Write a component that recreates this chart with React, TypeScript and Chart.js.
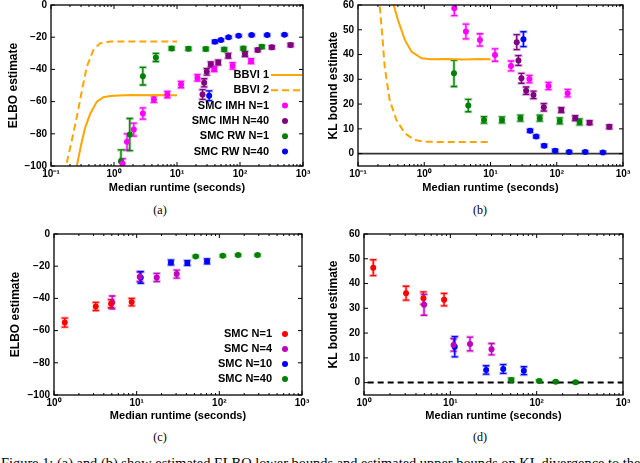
import React, { useEffect, useRef } from "react";
import { Chart, registerables } from "chart.js";
Chart.register(...registerables);

// ---------------- Panel (a): ELBO estimate ----------------
const bbvi1TimeA = [0.257, 0.3, 0.35, 0.42, 0.535, 0.68, 0.87, 1.2, 2, 3, 5, 7, 10];
const bbvi1ElboA = [-100, -87, -76, -67.5, -60, -57.3, -56.5, -56.2, -55.9, -56.1, -55.9, -56.1, -56];
const bbvi2TimeA = [0.178, 0.214, 0.257, 0.31, 0.37, 0.47, 0.6, 0.87, 1.5, 3, 6, 10];
const bbvi2ElboA = [-98, -84, -69.5, -53, -38.4, -28, -23.8, -22.7, -22.6, -22.6, -22.6, -22.6];
const imh1TimeA = [1.37, 1.61, 2.06, 2.87, 4.29, 7.02, 11.6, 21.1, 38.9, 76.3, 150];
const imh1ElboA = [-98.5, -85, -77.4, -67.4, -58.5, -55.6, -49.4, -45.2, -39.8, -37.8, -34.9];
const imh1ErrA = [3, 5, 4, 3.5, 2, 2, 2, 2, 1.5, 2, 1.5];
const imh40TimeA = [25.4, 27.0, 29.7, 34.4, 45.1, 65.1, 120, 191, 320, 635];
const imh40ElboA = [-55.6, -48.3, -41.5, -36.9, -35.7, -31.5, -30.5, -28, -26.3, -24.9];
const imh40ErrA = [3, 2.5, 2, 1.5, 1.5, 1.5, 1.5, 1, 1, 1];
const rw1TimeA = [1.29, 1.78, 2.87, 4.62, 8.22, 15.2, 28.6, 56.2, 113, 222];
const rw1ElboA = [-97, -80.5, -44.2, -32.6, -27, -27.2, -27.4, -27.6, -27, -26];
const rw1ErrA = [7, 10, 5.5, 2.5, 1, 1, 1, 1, 1, 1];
const rw40TimeA = [32.4, 39.9, 49.8, 65.9, 95.2, 153, 270, 509];
const rw40ElboA = [-56.4, -22.8, -21.8, -20.1, -19.1, -18.7, -18.7, -18.5];
const rw40ErrA = [3, 0.8, 0.6, 0.6, 0.5, 0.5, 0.5, 0.5];

// ---------------- Panel (b): KL bound estimate ----------------
const bbvi1TimeB = [0.346, 0.4, 0.51, 0.64, 0.91, 1.29, 2, 4, 7, 10];
const bbvi1KlB = [60, 54, 45.9, 41.2, 38.5, 38.1, 38.2, 38, 38.2, 38.1];
const bbvi2TimeB = [0.213, 0.231, 0.253, 0.3, 0.38, 0.51, 0.72, 1.02, 2, 5, 10];
const bbvi2KlB = [59.4, 48.6, 35.1, 21.7, 13.6, 8.2, 5.5, 4.8, 4.7, 4.7, 4.7];
const imh1TimeB = [2.84, 4.26, 6.93, 11.7, 20.4, 38.7, 75, 146];
const imh1KlB = [58.7, 49.3, 45.9, 39.8, 35.4, 30.1, 27.3, 24.4];
const imh1ErrB = [3, 3, 2.5, 2.5, 2, 1.5, 1.5, 1.5];
const imh40TimeB = [24.9, 26.4, 29.3, 34.5, 44.5, 63.8, 117, 190, 313, 621];
const imh40KlB = [45, 37.6, 30.4, 25.4, 23.7, 18.7, 17.6, 14.3, 12.5, 10.8];
const imh40ErrB = [3, 2, 2, 1.5, 1.5, 1.5, 1, 1, 0.8, 0.8];
const rw1TimeB = [2.81, 4.62, 7.98, 14.9, 28.3, 55.4, 111, 221];
const rw1KlB = [32.4, 19.4, 13.6, 13.6, 14.3, 14.3, 13.2, 12.8];
const rw1ErrB = [5.3, 2.5, 1.3, 1.2, 1.2, 1.2, 1.2, 1.2];
const rw40TimeB = [31.4, 39.6, 48.9, 64.6, 94.7, 154, 269, 498];
const rw40KlB = [46.2, 9.2, 6.9, 3.2, 1.2, 0.7, 0.7, 0.5];
const rw40ErrB = [3, 0.6, 0.5, 0.5, 0.5, 0.4, 0.4, 0.4];

// ---------------- Panel (c): ELBO estimate ----------------
const smc1TimeC = [1.35, 3.2, 4.9, 8.7];
const smc1ElboC = [-55, -45, -43.3, -42.3];
const smc1ErrC = [2.8, 2.5, 2.5, 2.3];
const smc4TimeC = [5.06, 10.9, 17.5, 30.5];
const smc4ElboC = [-42.5, -26.5, -27, -24.9];
const smc4ErrC = [4, 3, 2.5, 2.5];
const smc10TimeC = [11.2, 26, 41, 71];
const smc10ElboC = [-27, -17.7, -18, -17];
const smc10ErrC = [3.6, 1.5, 1.5, 1.5];
const smc40TimeC = [51.8, 110, 169, 290];
const smc40ElboC = [-13.9, -13.5, -13.1, -13.1];
const smc40ErrC = [0.5, 0.5, 0.5, 0.5];

// ---------------- Panel (d): KL bound estimate ----------------
const smc1TimeD = [1.28, 3.07, 4.88, 8.47];
const smc1KlD = [46.4, 36.1, 34.1, 33.5];
const smc1ErrD = [3.2, 2.8, 2.5, 2.5];
const smc4TimeD = [4.96, 10.9, 16.9, 30];
const smc4KlD = [31.4, 15.2, 15.6, 13.5];
const smc4ErrD = [4.2, 2.5, 2.8, 2.3];
const smc10TimeD = [11.25, 26, 41, 71];
const smc10KlD = [14.5, 5.1, 5.5, 4.8];
const smc10ErrD = [4.1, 1.7, 1.8, 1.6];
const smc40TimeD = [50.7, 107, 166, 282];
const smc40KlD = [1.1, 0.7, 0.3, 0.1];
const smc40ErrD = [0.7, 0.4, 0.3, 0.3];

// reference zero lines
const zeroLineX = [0.1, 1000];
const zeroLineY = [0, 0];

// axes ticks
const xTicksAB = [0.1, 1, 10, 100, 1000];
const xTicksCD = [1, 10, 100, 1000];
const yTicksElbo = [-100, -80, -60, -40, -20, 0];
const yTicksKl = [0, 10, 20, 30, 40, 50, 60];

const xTitle = "Median runtime (seconds)";
const captionText =
  "Figure 1: (a) and (b) show estimated ELBO lower bounds and estimated upper bounds on KL divergence to the";

const SANS = "'Liberation Sans', Arial, Helvetica, sans-serif";
const SERIF = "'Liberation Serif', 'Times New Roman', serif";
const ORANGE = "#ffa500";

const SUP: Record<string, string> = { "-": "\u207B", "0": "\u2070", "1": "\u00B9", "2": "\u00B2", "3": "\u00B3" };
const powLabel = (v: number) =>
  "10" + String(Math.round(Math.log10(v))).split("").map((c) => SUP[c] || c).join("");
const numLabel = (v: number) => (v < 0 ? "\u2212" + Math.abs(v) : String(v));

type Kind = "dot" | "solid" | "dash" | "zero" | "zeroDash";
type Series = { label: string; x: number[]; y: number[]; err?: number[]; color: string; kind: Kind };
type LegendSpec = { textRight: number; lineStart: number; dotOff: number; firstRow: number; step: number; items: Series[] };
type Spec = {
  left: number; top: number; width: number; height: number;
  padTop: number; padRight: number; yWidth: number; xHeight: number;
  xTitlePad: number; yTitlePad: number;
  xMin: number; xMax: number; xMajor: number[];
  yMin: number; yMax: number; yMajor: number[];
  yTitle: string; series: Series[]; legend?: LegendSpec;
};

function toDataset(s: Series): any {
  const data = s.x.map((x, i) => ({ x, y: s.y[i] }));
  if (s.kind === "dot") {
    return {
      label: s.label, data, showLine: false, pointRadius: 3, pointHoverRadius: 3,
      pointBackgroundColor: s.color, pointBorderColor: s.color, pointBorderWidth: 0,
      errors: s.err, errColor: s.color,
    };
  }
  const dash = s.kind === "dash" ? [7, 4] : s.kind === "zeroDash" ? [6, 4] : [];
  const width = s.kind === "zero" ? 1.6 : 2;
  return {
    label: s.label, data, showLine: true, pointRadius: 0, borderColor: s.color,
    borderWidth: width, borderDash: dash, tension: 0, fill: false,
  };
}

function decorPlugin(spec: Spec) {
  return {
    id: "decor",
    beforeDatasetsDraw(chart: any) {
      const { ctx, chartArea: a, scales } = chart;
      const xs = scales.x, ys = scales.y;
      ctx.save();
      ctx.beginPath();
      ctx.rect(a.left, a.top, a.right - a.left, a.bottom - a.top);
      ctx.clip();
      chart.data.datasets.forEach((ds: any) => {
        if (!ds.errors) return;
        ds.data.forEach((p: any, i: number) => {
          const e = ds.errors[i];
          const px = xs.getPixelForValue(p.x);
          const y1 = ys.getPixelForValue(p.y - e);
          const y2 = ys.getPixelForValue(p.y + e);
          ctx.strokeStyle = ds.errColor;
          ctx.globalAlpha = 0.3;
          ctx.lineWidth = 3;
          ctx.beginPath();
          ctx.moveTo(px, y1); ctx.lineTo(px, y2);
          ctx.moveTo(px - 4, y1); ctx.lineTo(px + 4, y1);
          ctx.moveTo(px - 4, y2); ctx.lineTo(px + 4, y2);
          ctx.stroke();
          ctx.globalAlpha = 1;
          ctx.lineWidth = 1.3;
          ctx.beginPath();
          ctx.moveTo(px, y1); ctx.lineTo(px, y2);
          ctx.moveTo(px - 3, y1); ctx.lineTo(px + 3, y1);
          ctx.moveTo(px - 3, y2); ctx.lineTo(px + 3, y2);
          ctx.stroke();
        });
      });
      ctx.restore();
    },
    afterDatasetsDraw(chart: any) {
      const { ctx, chartArea: a, scales } = chart;
      const xs = scales.x, ys = scales.y;
      ctx.save();
      ctx.strokeStyle = "#000";
      ctx.lineWidth = 1;
      ctx.beginPath();
      spec.xMajor.forEach((v) => {
        const px = xs.getPixelForValue(v);
        ctx.moveTo(px, a.bottom); ctx.lineTo(px, a.bottom - 4);
        ctx.moveTo(px, a.top); ctx.lineTo(px, a.top + 4);
      });
      for (let d = Math.round(Math.log10(spec.xMin)); d < Math.round(Math.log10(spec.xMax)); d++) {
        for (let k = 2; k <= 9; k++) {
          const v = k * Math.pow(10, d);
          const px = xs.getPixelForValue(v);
          ctx.moveTo(px, a.bottom); ctx.lineTo(px, a.bottom - 2);
          ctx.moveTo(px, a.top); ctx.lineTo(px, a.top + 2);
        }
      }
      spec.yMajor.forEach((v) => {
        const py = ys.getPixelForValue(v);
        ctx.moveTo(a.left, py); ctx.lineTo(a.left + 4, py);
        ctx.moveTo(a.right, py); ctx.lineTo(a.right - 4, py);
      });
      ctx.stroke();
      ctx.lineWidth = 1.3;
      ctx.strokeRect(a.left, a.top, a.right - a.left, a.bottom - a.top);

      const lg = spec.legend;
      if (lg) {
        ctx.font = `bold 11px ${SANS}`;
        ctx.textAlign = "right";
        ctx.textBaseline = "middle";
        lg.items.forEach((it, i) => {
          const y = a.top + lg.firstRow + i * lg.step;
          ctx.fillStyle = "#000";
          ctx.fillText(it.label, a.right - lg.textRight, y);
          if (it.kind === "dot") {
            ctx.fillStyle = it.color;
            ctx.beginPath();
            ctx.arc(a.right - lg.dotOff, y, 3, 0, Math.PI * 2);
            ctx.fill();
          } else {
            ctx.strokeStyle = it.color;
            ctx.lineWidth = 2;
            ctx.setLineDash(it.kind === "dash" ? [7, 4] : []);
            ctx.beginPath();
            ctx.moveTo(a.right - lg.lineStart, y);
            ctx.lineTo(a.right - 1, y);
            ctx.stroke();
            ctx.setLineDash([]);
          }
        });
      }
      ctx.restore();
    },
  };
}

function zeroPad(s: any) {
  s.paddingLeft = 0; s.paddingRight = 0; s.paddingTop = 0; s.paddingBottom = 0;
}

function buildConfig(spec: Spec): any {
  return {
    type: "scatter",
    data: { datasets: spec.series.map(toDataset) },
    options: {
      responsive: false,
      maintainAspectRatio: false,
      animation: false,
      events: [],
      layout: { padding: { left: 0, right: spec.padRight, top: spec.padTop, bottom: 0 } },
      plugins: { legend: { display: false }, tooltip: { enabled: false } },
      scales: {
        x: {
          type: "logarithmic", min: spec.xMin, max: spec.xMax,
          grid: { display: false, drawTicks: false }, border: { display: false },
          afterBuildTicks: (s: any) => { s.ticks = spec.xMajor.map((v) => ({ value: v })); },
          afterFit: (s: any) => { s.height = spec.xHeight; zeroPad(s); },
          ticks: {
            autoSkip: false, maxRotation: 0, minRotation: 0, padding: 2, color: "#000",
            font: { family: SANS, size: 10, weight: "bold" }, callback: (v: any) => powLabel(Number(v)),
          },
          title: {
            display: true, text: xTitle, color: "#000", font: { family: SANS, size: 11, weight: "bold" },
            padding: { top: 0, bottom: spec.xTitlePad },
          },
        },
        y: {
          type: "linear", min: spec.yMin, max: spec.yMax,
          grid: { display: false, drawTicks: false }, border: { display: false },
          afterBuildTicks: (s: any) => { s.ticks = spec.yMajor.map((v) => ({ value: v })); },
          afterFit: (s: any) => { s.width = spec.yWidth; zeroPad(s); },
          ticks: {
            padding: 4, color: "#000", font: { family: SANS, size: 10, weight: "bold" },
            callback: (v: any) => numLabel(Number(v)),
          },
          title: {
            display: true, text: spec.yTitle, color: "#000", font: { family: SANS, size: 12, weight: "bold" },
            padding: { top: spec.yTitlePad, bottom: 0 },
          },
        },
      },
    },
    plugins: [decorPlugin(spec)],
  };
}

function Panel({ spec }: { spec: Spec }) {
  const ref = useRef<HTMLCanvasElement>(null);
  useEffect(() => {
    const chart = new Chart(ref.current as HTMLCanvasElement, buildConfig(spec));
    return () => chart.destroy();
  }, []);
  return (
    <canvas
      ref={ref}
      width={spec.width}
      height={spec.height}
      style={{ position: "absolute", left: spec.left, top: spec.top, width: spec.width, height: spec.height }}
    />
  );
}

const sA: Series[] = [
  { label: "SMC IMH N=1", x: imh1TimeA, y: imh1ElboA, err: imh1ErrA, color: "#ff00ff", kind: "dot" },
  { label: "SMC IMH N=40", x: imh40TimeA, y: imh40ElboA, err: imh40ErrA, color: "#800080", kind: "dot" },
  { label: "SMC RW N=1", x: rw1TimeA, y: rw1ElboA, err: rw1ErrA, color: "#008000", kind: "dot" },
  { label: "SMC RW N=40", x: rw40TimeA, y: rw40ElboA, err: rw40ErrA, color: "#0000ff", kind: "dot" },
  { label: "BBVI 1", x: bbvi1TimeA, y: bbvi1ElboA, color: ORANGE, kind: "solid" },
  { label: "BBVI 2", x: bbvi2TimeA, y: bbvi2ElboA, color: ORANGE, kind: "dash" },
];
const sB: Series[] = [
  { label: "SMC IMH N=1", x: imh1TimeB, y: imh1KlB, err: imh1ErrB, color: "#ff00ff", kind: "dot" },
  { label: "SMC IMH N=40", x: imh40TimeB, y: imh40KlB, err: imh40ErrB, color: "#800080", kind: "dot" },
  { label: "SMC RW N=1", x: rw1TimeB, y: rw1KlB, err: rw1ErrB, color: "#008000", kind: "dot" },
  { label: "SMC RW N=40", x: rw40TimeB, y: rw40KlB, err: rw40ErrB, color: "#0000ff", kind: "dot" },
  { label: "BBVI 1", x: bbvi1TimeB, y: bbvi1KlB, color: ORANGE, kind: "solid" },
  { label: "BBVI 2", x: bbvi2TimeB, y: bbvi2KlB, color: ORANGE, kind: "dash" },
  { label: "zero", x: zeroLineX, y: zeroLineY, color: "#333333", kind: "zero" },
];
const sC: Series[] = [
  { label: "SMC N=1", x: smc1TimeC, y: smc1ElboC, err: smc1ErrC, color: "#ff0000", kind: "dot" },
  { label: "SMC N=4", x: smc4TimeC, y: smc4ElboC, err: smc4ErrC, color: "#bf00bf", kind: "dot" },
  { label: "SMC N=10", x: smc10TimeC, y: smc10ElboC, err: smc10ErrC, color: "#0000ff", kind: "dot" },
  { label: "SMC N=40", x: smc40TimeC, y: smc40ElboC, err: smc40ErrC, color: "#008000", kind: "dot" },
];
const sD: Series[] = [
  { label: "SMC N=1", x: smc1TimeD, y: smc1KlD, err: smc1ErrD, color: "#ff0000", kind: "dot" },
  { label: "SMC N=4", x: smc4TimeD, y: smc4KlD, err: smc4ErrD, color: "#bf00bf", kind: "dot" },
  { label: "SMC N=10", x: smc10TimeD, y: smc10KlD, err: smc10ErrD, color: "#0000ff", kind: "dot" },
  { label: "SMC N=40", x: smc40TimeD, y: smc40KlD, err: smc40ErrD, color: "#008000", kind: "dot" },
  { label: "zero", x: zeroLineX, y: zeroLineY, color: "#000000", kind: "zeroDash" },
];

const specA: Spec = {
  left: 0, top: 0, width: 320, height: 200, padTop: 5, padRight: 17, yWidth: 51, xHeight: 34,
  xTitlePad: 5, yTitlePad: 6, xMin: 0.1, xMax: 1000, xMajor: xTicksAB,
  yMin: -100, yMax: 0, yMajor: yTicksElbo, yTitle: "ELBO estimate", series: sA,
  legend: { textRight: 34, lineStart: 32, dotOff: 18, firstRow: 70, step: 15.3, items: [sA[4], sA[5], sA[0], sA[1], sA[2], sA[3]] },
};
const specB: Spec = {
  left: 320, top: 0, width: 320, height: 200, padTop: 5, padRight: 17, yWidth: 38, xHeight: 34,
  xTitlePad: 5, yTitlePad: 6, xMin: 0.1, xMax: 1000, xMajor: xTicksAB,
  yMin: -5, yMax: 60, yMajor: yTicksKl, yTitle: "KL bound estimate", series: sB,
};
const specC: Spec = {
  left: 0, top: 225, width: 320, height: 200, padTop: 9, padRight: 18, yWidth: 54, xHeight: 30,
  xTitlePad: 2, yTitlePad: 8, xMin: 1, xMax: 1000, xMajor: xTicksCD,
  yMin: -100, yMax: 0, yMajor: yTicksElbo, yTitle: "ELBO estimate", series: sC,
  legend: { textRight: 30, lineStart: 30, dotOff: 17, firstRow: 100, step: 15, items: sC },
};
const specD: Spec = {
  left: 320, top: 225, width: 320, height: 200, padTop: 9, padRight: 17, yWidth: 44, xHeight: 30,
  xTitlePad: 2, yTitlePad: 6, xMin: 1, xMax: 1000, xMajor: xTicksCD,
  yMin: -5, yMax: 60, yMajor: yTicksKl, yTitle: "KL bound estimate", series: sD,
};

const subLabels = [
  { text: "(a)", cx: 160, top: 204 },
  { text: "(b)", cx: 480, top: 204 },
  { text: "(c)", cx: 160, top: 431 },
  { text: "(d)", cx: 480, top: 431 },
];

export default function App() {
  return (
    <div style={{ position: "absolute", left: 0, top: 0, width: 640, height: 463, overflow: "hidden", background: "#fff" }}>
      <Panel spec={specA} />
      <Panel spec={specB} />
      <Panel spec={specC} />
      <Panel spec={specD} />
      {subLabels.map((s) => (
        <div
          key={s.text}
          style={{
            position: "absolute", left: s.cx - 20, top: s.top, width: 40, textAlign: "center",
            fontFamily: SERIF, fontSize: 12, lineHeight: "12px", color: "#000",
          }}
        >
          {s.text}
        </div>
      ))}
      <div
        style={{
          position: "absolute", left: 1, top: 456, whiteSpace: "nowrap",
          fontFamily: SERIF, fontSize: 14.4, lineHeight: "15px", color: "#000",
        }}
      >
        {captionText}
      </div>
    </div>
  );
}
